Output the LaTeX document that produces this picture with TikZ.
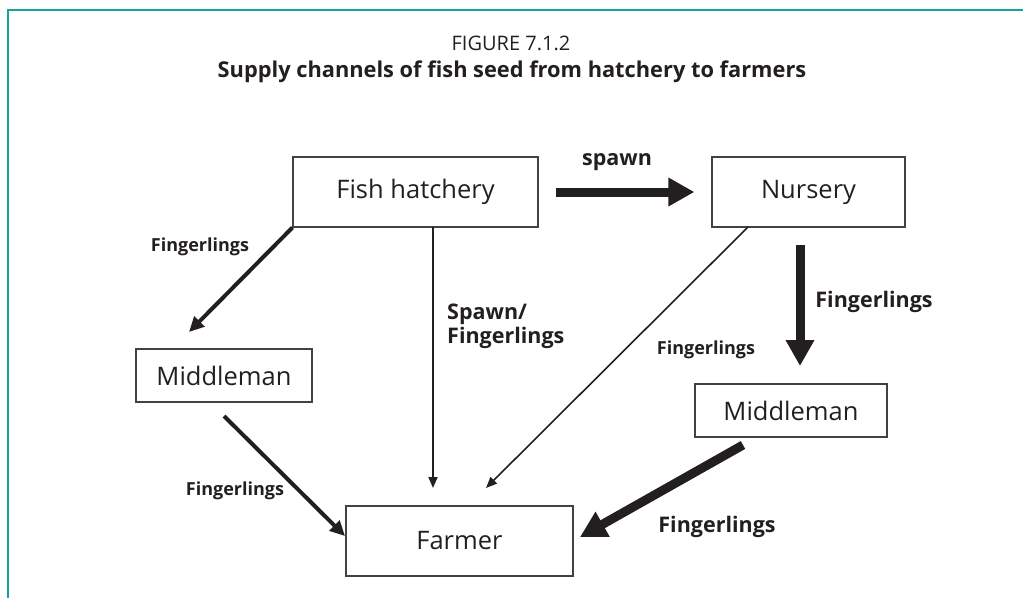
\documentclass[tikz,border=0pt]{standalone}
\usepackage{fontspec}
\setmainfont{Open Sans}
\usetikzlibrary{arrows.meta}
\definecolor{ink}{RGB}{35,31,32}
\definecolor{frameteal}{RGB}{23,163,152}
\tikzset{
  box/.style={draw=ink!85, line width=1.2pt, inner sep=0pt, text=ink, font=\fontsize{25.5}{28}\selectfont},
  lbl/.style={text=ink, inner sep=0pt, font=\bfseries\fontsize{21.5}{25}\selectfont},
  lblsmall/.style={text=ink, inner sep=0pt, font=\bfseries\fontsize{18}{21}\selectfont},
  heavy/.style={draw=ink, line width=9pt, -{Triangle[length=26pt,width=27pt]}},
  medium/.style={draw=ink, line width=4pt, -{Triangle[length=15pt,width=14pt]}},
  light/.style={draw=ink, line width=1.8pt, -{Triangle[length=11pt,width=9pt]}},
}
\begin{document}
\begin{tikzpicture}[x=1pt, y=-1pt]
\useasboundingbox (0,0) rectangle (1023,598);

% outer frame
\draw[frameteal, line width=2pt] (8,598) -- (8,10) -- (1023,10);

% headings
\node[text=ink, font=\fontsize{20}{24}\selectfont] (fig) at (511,43) {FIGURE 7.1.2};
\node[text=ink, font=\bfseries\fontsize{21.8}{26}\selectfont] (cap) at (512,72) {Supply channels of fish seed from hatchery to farmers};

% stages of the supply chain
\node[box, minimum width=245pt, minimum height=70pt] (hatch) at (415.5,192) {Fish hatchery};
\node[box, minimum width=193pt, minimum height=70pt] (nurs) at (808.5,192) {Nursery};
\node[box, minimum width=176pt, minimum height=53pt] (mmL) at (224,375.5) {Middleman};
\node[box, minimum width=192pt, minimum height=53pt] (mmR) at (791,410.5) {Middleman};
\node[box, minimum width=227pt, minimum height=70pt] (farm) at (459.5,541) {Farmer};

% free ends of the connectors
\coordinate (nd1) at (800,245);
\coordinate (nd2) at (800,366);
\coordinate (mr1) at (743,445);
\coordinate (mr2) at (580,537);
\coordinate (hl2) at (189,332);
\coordinate (ml1) at (224,416);
\coordinate (ml2) at (345,536);
\coordinate (hv1) at (433,227);
\coordinate (hv2) at (433,488);
\coordinate (nf1) at (748,227);
\coordinate (nf2) at (486,488);

% connectors
\draw[heavy, shorten <=17pt, shorten >=17pt] (hatch.east) -- (nurs.west);
\draw[heavy] (nd1) -- (nd2);
\draw[heavy] (mr1) -- (mr2);
\draw[medium] (hatch.south west) -- (hl2);
\draw[medium] (ml1) -- (ml2);
\draw[light] (hv1) -- (hv2);
\draw[light, line width=1.6pt] (nf1) -- (nf2);

% connector labels
\node[lbl] (tspawn) at (617,162) {spawn};
\node[lblsmall] (tf1) at (200,247) {Fingerlings};
\node[lbl, anchor=west, align=left, font=\bfseries\fontsize{21.5}{24}\selectfont] (tsf) at (447,326) {Spawn/\\Fingerlings};
\node[lbl] (tf2) at (874,302) {Fingerlings};
\node[lblsmall] (tf3) at (706,350) {Fingerlings};
\node[lblsmall] (tf4) at (235,491) {Fingerlings};
\node[lbl] (tf5) at (717,527) {Fingerlings};
\end{tikzpicture}
\end{document}
